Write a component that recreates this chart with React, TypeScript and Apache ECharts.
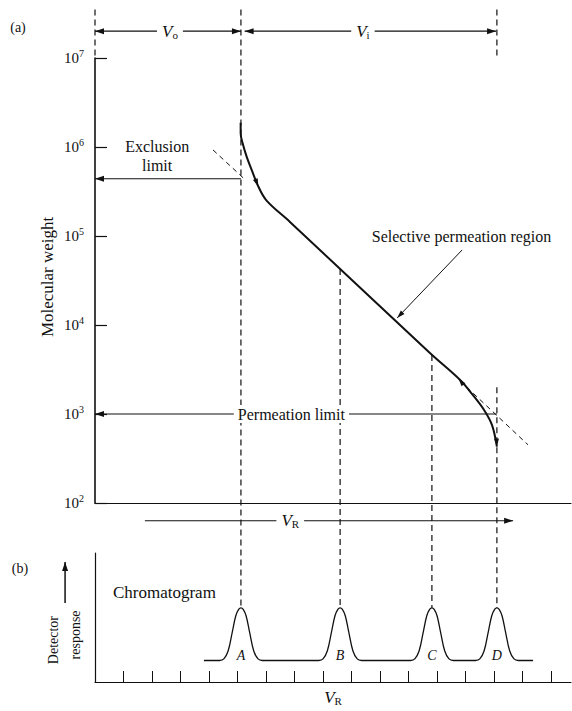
import React, { useEffect, useRef } from 'react';
import * as echarts from 'echarts';

// ---------- data ----------
const decadeExponents = [2, 3, 4, 5, 6, 7];
const xMax = 16.7;
const chromTickValues = [1, 2, 3, 4, 5, 6, 7, 8, 9, 10, 11, 12, 13, 14, 15, 16];

// calibration curve (elution volume units, molecular weight)
const calibU = [5.11, 5.11, 5.18, 5.32, 5.5, 5.73, 6.02, 6.84, 11.75, 12.81, 13.26, 13.65, 13.93, 14.1];
const calibMW = [1.87e6, 1.43e6, 1.1e6, 7.8e5, 5.5e5, 3.6e5, 2.5e5, 1.44e5, 4.84e3, 2.41e3, 1.63e3, 1.11e3, 7.5e2, 4.3e2];

// dashed extrapolations of the straight part
const dashUpperU = [4.14, 5.3];
const dashUpperMW = [9.27e5, 4.2e5];
const dashLowerU = [12.81, 15.19];
const dashLowerMW = [2.35e3, 4.51e2];

// peaks of the chromatogram
const peakLabels = ['A', 'B', 'C', 'D'];
const peakPositions = [5.12, 8.6, 11.82, 14.1];
const peakHeights = [3.45, 3.45, 3.45, 3.45];
const dropStartMW = [3.5e7, 4.27e4, 4.6e3, 2.0e3];
const baselineLevel = 1.0;
const baselineStart = 3.82;
const baselineEnd = 15.37;
// one peak's profile, offsets and relative heights
const profileOffsets = [-0.75, -0.6, -0.45, -0.3, -0.18, -0.08, 0, 0.08, 0.18, 0.3, 0.45, 0.6, 0.75];
const profileHeights = [0, 0.03, 0.18, 0.55, 0.85, 0.97, 1, 0.97, 0.85, 0.55, 0.18, 0.03, 0];

// annotation levels
const topMW = 3.5e7;
const volumeArrowMW = 2.0e7;
const exclusionMW = 4.4e5;
const permeationMW = 1.0e3;

const INK = '#111111';
const SERIF = '"Liberation Serif", "Times New Roman", serif';

function buildChromatogram(): number[][] {
  const pts: number[][] = [[baselineStart, baselineLevel]];
  peakPositions.forEach((p, i) => {
    profileOffsets.forEach((o, j) => {
      pts.push([p + o, baselineLevel + profileHeights[j] * (peakHeights[i] - baselineLevel)]);
    });
  });
  pts.push([baselineEnd, baselineLevel]);
  return pts;
}

function zip(a: number[], b: number[]) {
  return a.map((v, i) => [v, b[i]]);
}

function buildGraphics(chart: any) {
  const p0 = (u: number, mw: number) => chart.convertToPixel({ gridIndex: 0 }, [u, mw]) as number[];
  const p1 = (u: number, v: number) => chart.convertToPixel({ gridIndex: 1 }, [u, v]) as number[];
  const els: any[] = [];
  const line = (a: number[], b: number[], dashed = false, w = 1.2) => {
    const style: any = { stroke: INK, lineWidth: w };
    if (dashed) style.lineDash = [6, 4];
    els.push({ type: 'line', shape: { x1: a[0], y1: a[1], x2: b[0], y2: b[1] }, style, z: 10 });
  };
  const head = (tip: number[], from: number[], len = 9, half = 3) => {
    const dx = tip[0] - from[0];
    const dy = tip[1] - from[1];
    const d = Math.hypot(dx, dy) || 1;
    const ux = dx / d, uy = dy / d;
    const bx = tip[0] - ux * len, by = tip[1] - uy * len;
    els.push({
      type: 'polygon',
      shape: { points: [[tip[0], tip[1]], [bx - uy * half, by + ux * half], [bx + uy * half, by - ux * half]] },
      style: { fill: INK },
      z: 11,
    });
  };
  const txt = (p: number[], text: string, extra: any = {}, rotation = 0) => {
    els.push({
      type: 'text',
      x: p[0],
      y: p[1],
      rotation,
      z: 12,
      style: {
        text,
        fontFamily: SERIF,
        fontSize: 16,
        fill: INK,
        align: 'center',
        textAlign: 'center',
        verticalAlign: 'middle',
        textVerticalAlign: 'middle',
        ...extra,
      },
    });
  };

  // dashed verticals
  line(p0(0, topMW), p0(0, 1.0e7), true);
  line(p0(peakPositions[3], topMW), p0(peakPositions[3], 1.07e7), true);
  peakPositions.forEach((pos, i) => {
    line(p0(pos, dropStartMW[i]), p1(pos, peakHeights[i]), true);
  });

  // V0 and Vi arrows
  const a0 = p0(0, volumeArrowMW), a1 = p0(peakPositions[0], volumeArrowMW);
  line(a0, a1);
  head(a0, a1);
  head(a1, a0);
  const b0 = p0(5.25, volumeArrowMW), b1 = p0(14.07, volumeArrowMW);
  line(b0, b1);
  head(b0, b1);
  head(b1, b0);
  const subRich = {
    v: { fontFamily: SERIF, fontSize: 17, fontStyle: 'italic', fill: INK, lineHeight: 18 },
    s: { fontFamily: SERIF, fontSize: 11, fill: INK, verticalAlign: 'bottom', lineHeight: 12 },
  };
  txt(p0(2.63, volumeArrowMW), '{v|V}{s|o}', { rich: subRich, backgroundColor: '#fff', padding: [0, 5] });
  txt(p0(9.4, volumeArrowMW), '{v|V}{s|i}', { rich: subRich, backgroundColor: '#fff', padding: [0, 5] });

  // exclusion limit
  const e0 = p0(peakPositions[0], exclusionMW), e1 = p0(0, exclusionMW);
  line(e0, e1);
  head(e1, e0);
  txt(p0(2.18, 8.0e5), 'Exclusion\nlimit', { lineHeight: 19 });

  // permeation limit
  const q0 = p0(peakPositions[3], permeationMW), q1 = p0(0, permeationMW);
  line(q0, q1);
  head(q1, q0);
  txt(p0(6.89, permeationMW), 'Permeation limit', { backgroundColor: '#fff', padding: [1, 4] });

  // selective permeation region
  txt(p0(12.86, 9.8e4), 'Selective permeation region');
  const s0 = p0(12.88, 6.97e4), s1 = p0(10.6, 1.2e4);
  line(s0, s1, false, 1);
  head(s1, s0, 8, 2.5);

  // arrowheads on the curve
  head(p0(5.73, 3.6e5), p0(5.5, 5.5e5), 8, 2.5);
  head(p0(12.75, 2.5e3), p0(13.0, 2.0e3), 8, 2.5);
  head(p0(14.1, 4.3e2), p0(14.07, 6.5e2), 8, 2.5);

  // V_R arrow between panels
  const r0 = p1(1.75, 7.5), r1 = p1(14.67, 7.5);
  line(r0, r1);
  head(r1, r0);
  txt(p1(6.85, 7.5), '{v|V}{s|R}', { rich: subRich, backgroundColor: '#fff', padding: [0, 5] });

  // axis titles and labels
  txt(p0(-1.68, 3.47e4), 'Molecular weight', { fontSize: 17 }, Math.PI / 2);
  txt(p1(8.35, -0.7), '{v|V}{s|R}', { rich: subRich });
  const d0 = p1(-1.05, 3.67), d1 = p1(-1.05, 5.58);
  line(d0, d1, false, 1.5);
  head(d1, d0);
  txt(p1(-1.47, 1.95), 'Detector', { fontSize: 14 }, Math.PI / 2);
  txt(p1(-0.7, 2.19), 'response', { fontSize: 14 }, Math.PI / 2);
  txt(p1(0.63, 4.14), 'Chromatogram', { fontSize: 17, align: 'left', textAlign: 'left' });
  peakPositions.forEach((pos, i) => {
    txt(p1(pos, 1.25), peakLabels[i], { fontSize: 14, fontStyle: 'italic' });
  });

  // panel labels
  txt([18, 27], '(a)', { fontSize: 14 });
  txt([20, 568], '(b)', { fontSize: 14 });

  return els;
}

export default function App() {
  const ref = useRef<HTMLDivElement>(null);
  useEffect(() => {
    if (!ref.current) return;
    const chart = echarts.init(ref.current, null, { renderer: 'svg' });
    const option: any = {
      animation: false,
      backgroundColor: '#fff',
      grid: [
        { left: 95, top: 58, width: 476, height: 445 },
        { left: 95, top: 553, width: 476, height: 129 },
      ],
      xAxis: [
        {
          type: 'value', gridIndex: 0, min: 0, max: xMax,
          axisLine: { show: true, onZero: false, lineStyle: { color: INK, width: 1.2 } },
          axisTick: { show: false }, axisLabel: { show: false }, splitLine: { show: false },
        },
        {
          type: 'value', gridIndex: 1, min: 0, max: xMax, interval: 1,
          axisLine: { show: true, onZero: false, lineStyle: { color: INK, width: 1.2 } },
          axisTick: { show: true, inside: true, length: 11, customValues: chromTickValues, lineStyle: { color: INK } },
          axisLabel: { show: false }, splitLine: { show: false },
        },
      ],
      yAxis: [
        {
          type: 'log', logBase: 10, gridIndex: 0, min: 100, max: 1e7,
          axisLine: { show: true, lineStyle: { color: INK, width: 1.6 } },
          axisTick: { show: true, inside: true, length: 12, lineStyle: { color: INK, width: 1.2 } },
          axisLabel: {
            margin: 11,
            formatter: (v: number) => {
              const e = decadeExponents.find((k) => Math.abs(Math.log10(v) - k) < 0.01);
              return e === undefined ? '' : `{b|10}{s|${e}}`;
            },
            rich: {
              b: { fontFamily: SERIF, fontSize: 15, color: INK, lineHeight: 20 },
              s: { fontFamily: SERIF, fontSize: 10, color: INK, verticalAlign: 'top', lineHeight: 10 },
            },
          },
          splitLine: { show: false },
        },
        {
          type: 'value', gridIndex: 1, min: 0, max: 6,
          axisLine: { show: true, lineStyle: { color: INK, width: 1.2 } },
          axisTick: { show: false }, axisLabel: { show: false }, splitLine: { show: false },
        },
      ],
      series: [
        {
          type: 'line', xAxisIndex: 0, yAxisIndex: 0, data: zip(calibU, calibMW),
          smooth: 0.35, showSymbol: false, lineStyle: { color: INK, width: 2 },
        },
        {
          type: 'line', xAxisIndex: 0, yAxisIndex: 0, data: zip(dashUpperU, dashUpperMW),
          showSymbol: false, lineStyle: { color: INK, width: 1, type: [5, 4] },
        },
        {
          type: 'line', xAxisIndex: 0, yAxisIndex: 0, data: zip(dashLowerU, dashLowerMW),
          showSymbol: false, lineStyle: { color: INK, width: 1, type: [5, 4] },
        },
        {
          type: 'line', xAxisIndex: 1, yAxisIndex: 1, data: buildChromatogram(),
          smooth: 0.4, showSymbol: false, lineStyle: { color: INK, width: 1.3 },
        },
      ],
    };
    chart.setOption(option);
    chart.setOption({ graphic: buildGraphics(chart) });
    return () => chart.dispose();
  }, []);
  return (
    <div
      ref={ref}
      style={{ position: 'absolute', left: 0, top: 0, width: 572, height: 711 }}
    />
  );
}
